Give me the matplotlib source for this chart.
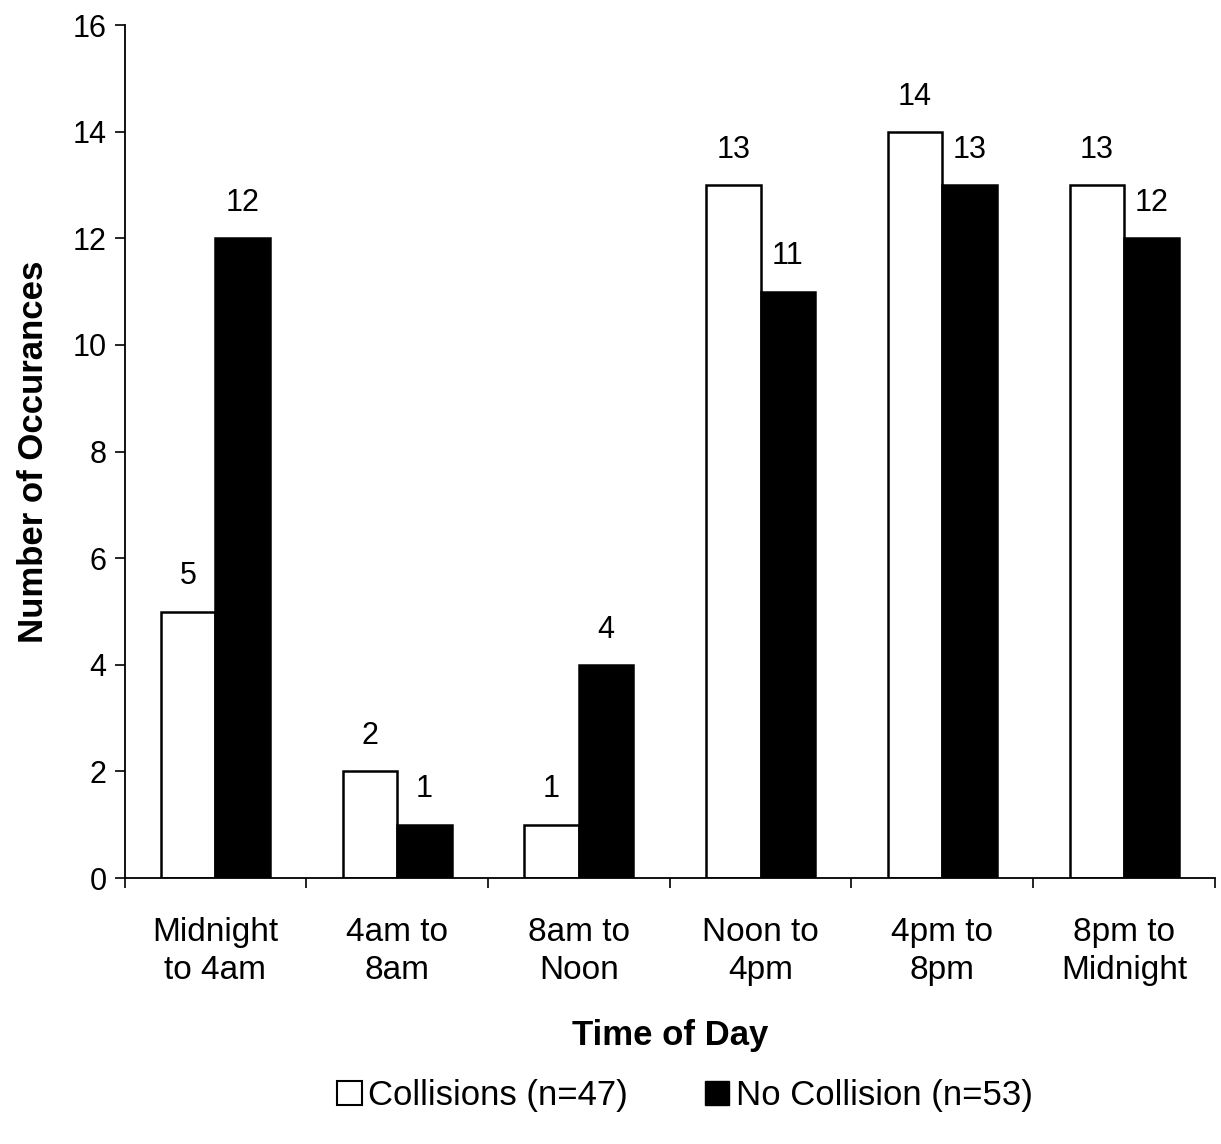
import matplotlib
matplotlib.use("Agg")
import matplotlib.pyplot as plt
import numpy as np
from matplotlib.patches import Patch

categories = ["Midnight\nto 4am", "4am to\n8am", "8am to\nNoon", "Noon to\n4pm", "4pm to\n8pm", "8pm to\nMidnight"]
collisions = [5, 2, 1, 13, 14, 13]
no_collision = [12, 1, 4, 11, 13, 12]
yticks = [0, 2, 4, 6, 8, 10, 12, 14, 16]

plt.rcParams['font.family'] = ['Liberation Sans', 'DejaVu Sans']

fig = plt.figure(figsize=(12.21, 11.44), dpi=100)
ax = fig.add_axes([0.102, 0.2325, 0.893, 0.7455])

x = np.arange(len(categories))
w = 0.3
ax.bar(x - w/2, collisions, w, color='white', edgecolor='black', linewidth=1.8)
ax.bar(x + w/2, no_collision, w, color='black', edgecolor='black', linewidth=1.8)

for xi, v in zip(x - w/2, collisions):
    ax.text(xi, v + 0.38, str(v), ha='center', va='bottom', fontsize=22)
for xi, v in zip(x + w/2, no_collision):
    ax.text(xi, v + 0.38, str(v), ha='center', va='bottom', fontsize=22)

ax.set_xlim(-0.5, 5.5)
ax.set_ylim(0, 16)
ax.set_yticks(yticks)
ax.set_yticklabels([str(t) for t in yticks], fontsize=22)
ax.set_xticks(x)
ax.set_xticklabels(categories, fontsize=24, linespacing=1.3)
ax.tick_params(axis='x', length=0, pad=28)
ax.set_xticks(np.arange(-0.5, 6.0, 1.0), minor=True)
ax.tick_params(axis='x', which='minor', length=7, direction='out', width=1.2)
ax.tick_params(axis='y', length=7, direction='out', pad=6, width=1.2)
for s in ['top', 'right']:
    ax.spines[s].set_visible(False)
ax.spines['left'].set_linewidth(1.3)
ax.spines['bottom'].set_linewidth(1.3)

ax.set_ylabel("Number of Occurances", fontsize=25, fontweight='bold', labelpad=16)
ax.set_xlabel("Time of Day", fontsize=25, fontweight='bold', labelpad=24)

handles = [Patch(facecolor='white', edgecolor='black', linewidth=1.5, label='Collisions (n=47)'),
           Patch(facecolor='black', edgecolor='black', label='No Collision (n=53)')]
fig.legend(handles=handles, loc='center', bbox_to_anchor=(0.561, 0.042), ncol=2, frameon=False,
           fontsize=25, handlelength=0.7, handleheight=0.7, handletextpad=0.2, columnspacing=2.2)

fig.savefig("out.png", dpi=100)
